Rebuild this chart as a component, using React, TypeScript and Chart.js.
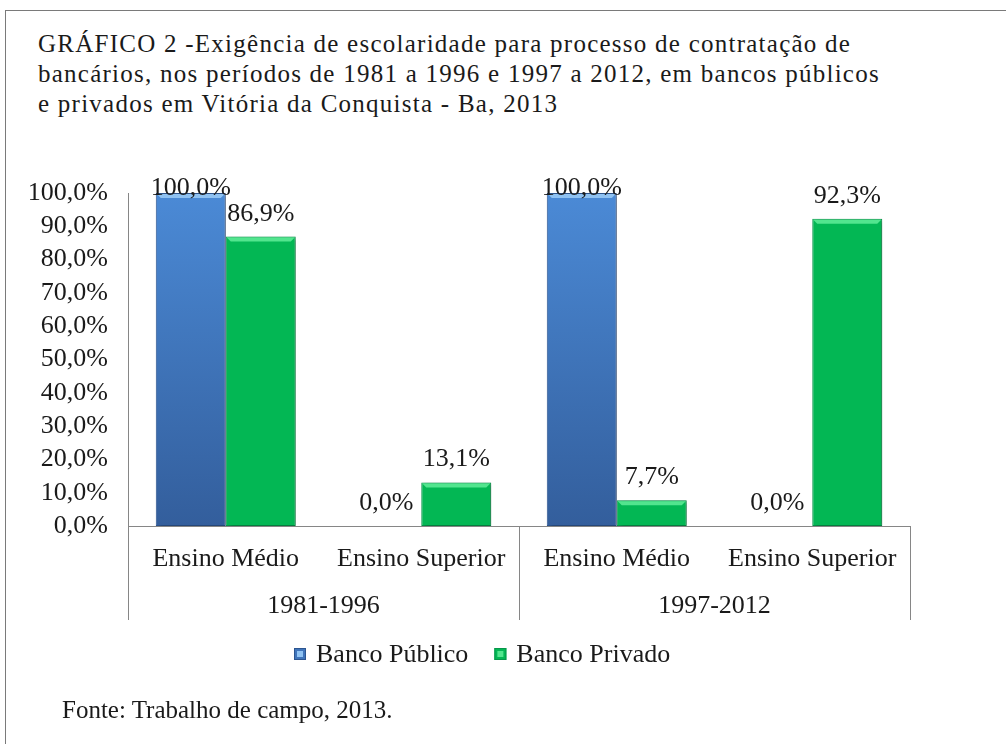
import React, { useEffect, useRef } from 'react';
import { Chart, registerables } from 'chart.js';

Chart.register(...registerables);

// ---------- data ----------
const categories = ['Ensino Médio', 'Ensino Superior', 'Ensino Médio', 'Ensino Superior'];
const periods = ['1981-1996', '1997-2012'];
const seriesNames = ['Banco Público', 'Banco Privado'];
const bancoPublico = [100, 0, 100, 0];
const bancoPrivado = [86.9, 13.1, 7.7, 92.3];
const yTickLabels = ['0,0%', '10,0%', '20,0%', '30,0%', '40,0%', '50,0%', '60,0%', '70,0%', '80,0%', '90,0%', '100,0%'];
const titleLines = [
  'GRÁFICO 2 -Exigência de escolaridade para processo de contratação de',
  'bancários, nos períodos de 1981 a 1996 e 1997 a 2012, em bancos públicos',
  'e privados em Vitória da Conquista - Ba, 2013',
];
const sourceText = 'Fonte: Trabalho de campo, 2013.';

// ---------- styles ----------
const FONT = '"Liberation Serif", "Times New Roman", serif';
const TEXT = '#1a1a1a';
const AXIS = '#868686';
const BLUE_TOP = '#4b8ad6';
const BLUE_BOTTOM = '#335e9c';
const BLUE_EDGE = '#2c5590';
const BLUE_LIGHT = '#8fc2f2';
const GREEN = '#03b754';
const GREEN_EDGE = '#07964a';
const GREEN_LIGHT = '#52e58e';

const fmt = (v: number) => v.toFixed(1).replace('.', ',') + '%';

const decorPlugin = {
  id: 'decor',
  beforeDatasetsDraw(chart: any) {
    const c = chart.ctx;
    c.save();
    c.shadowColor = 'rgba(0,0,0,0.28)';
    c.shadowBlur = 4;
    c.shadowOffsetX = 3;
    c.shadowOffsetY = 1;
  },
  afterDatasetsDraw(chart: any) {
    const c = chart.ctx;
    c.restore();
    const area = chart.chartArea;
    // bevel highlights
    chart.data.datasets.forEach((ds: any, di: number) => {
      const meta = chart.getDatasetMeta(di);
      meta.data.forEach((bar: any) => {
        const h = bar.base - bar.y;
        if (h < 4) return;
        const l = bar.x - bar.width / 2;
        const r = bar.x + bar.width / 2;
        const b = 5;
        c.save();
        c.fillStyle = di === 0 ? BLUE_LIGHT : GREEN_LIGHT;
        c.beginPath();
        c.moveTo(l + 1, bar.y + 1);
        c.lineTo(r - 1, bar.y + 1);
        c.lineTo(r - b, bar.y + b);
        c.lineTo(l + b, bar.y + b);
        c.closePath();
        c.fill();
        c.restore();
      });
    });
    // data labels
    c.save();
    c.font = `26px ${FONT}`;
    c.fillStyle = TEXT;
    c.textAlign = 'center';
    c.textBaseline = 'alphabetic';
    chart.data.datasets.forEach((ds: any, di: number) => {
      const meta = chart.getDatasetMeta(di);
      meta.data.forEach((bar: any, i: number) => {
        const y = Math.max(bar.y - 16, area.top + 2);
        c.fillText(fmt(ds.data[i]), bar.x, y);
      });
    });
    c.restore();
  },
  afterDraw(chart: any) {
    const c = chart.ctx;
    const area = chart.chartArea;
    const xs = chart.scales.x;
    const bottom = xs.bottom;
    // group separators
    const groupSize = categories.length / periods.length;
    const bounds: number[] = [area.left];
    for (let g = 1; g < periods.length; g++) {
      bounds.push((xs.getPixelForValue(g * groupSize - 1) + xs.getPixelForValue(g * groupSize)) / 2);
    }
    bounds.push(area.right);
    c.save();
    c.strokeStyle = AXIS;
    c.lineWidth = 1;
    bounds.forEach((bx) => {
      const px = Math.round(bx) + 0.5;
      c.beginPath();
      c.moveTo(px, area.bottom);
      c.lineTo(px, bottom);
      c.stroke();
    });
    c.font = `26px ${FONT}`;
    c.fillStyle = TEXT;
    c.textAlign = 'center';
    c.textBaseline = 'middle';
    periods.forEach((p, g) => {
      c.fillText(p, (bounds[g] + bounds[g + 1]) / 2, bottom - 14);
    });
    // legend
    const legendY = bottom + 35;
    let lx = 294;
    c.textAlign = 'left';
    chart.data.datasets.forEach((ds: any, di: number) => {
      const sq = 12;
      c.fillStyle = di === 0 ? '#3f74ba' : GREEN;
      c.fillRect(lx, legendY - sq / 2 - 1, sq, sq);
      c.strokeStyle = di === 0 ? BLUE_EDGE : GREEN_EDGE;
      c.strokeRect(lx + 0.5, legendY - sq / 2 - 0.5, sq - 1, sq - 1);
      c.fillStyle = di === 0 ? BLUE_LIGHT : GREEN_LIGHT;
      c.fillRect(lx + 3, legendY - sq / 2 + 2, sq - 6, sq - 6);
      c.fillStyle = TEXT;
      const tx = lx + sq + 10;
      c.fillText(ds.label, tx, legendY);
      lx = tx + c.measureText(ds.label).width + 26;
    });
    c.restore();
  },
};

export default function App() {
  const canvasRef = useRef<HTMLCanvasElement | null>(null);

  useEffect(() => {
    const canvas = canvasRef.current;
    if (!canvas) return;
    const blueFill = (ctx: any) => {
      const { chart } = ctx;
      const area = chart.chartArea;
      if (!area) return BLUE_TOP;
      const g = chart.ctx.createLinearGradient(0, area.top, 0, area.bottom);
      g.addColorStop(0, BLUE_TOP);
      g.addColorStop(1, BLUE_BOTTOM);
      return g;
    };
    const chart = new Chart(canvas, {
      type: 'bar',
      data: {
        labels: categories,
        datasets: [
          {
            label: seriesNames[0],
            data: bancoPublico,
            backgroundColor: blueFill,
            borderColor: BLUE_EDGE,
            borderWidth: (ctx: any) => (ctx.raw > 0 ? 1 : 0),
            borderSkipped: false,
          },
          {
            label: seriesNames[1],
            data: bancoPrivado,
            backgroundColor: GREEN,
            borderColor: GREEN_EDGE,
            borderWidth: (ctx: any) => (ctx.raw > 0 ? 1 : 0),
            borderSkipped: false,
          },
        ],
      },
      options: {
        responsive: false,
        animation: false,
        devicePixelRatio: 1,
        layout: { padding: { top: 193, right: 96, bottom: 124, left: 0 } },
        datasets: { bar: { categoryPercentage: 0.716, barPercentage: 1 } },
        plugins: {
          legend: { display: false },
          tooltip: { enabled: false },
          title: { display: false },
        },
        scales: {
          x: {
            type: 'category',
            grid: { display: false, drawTicks: false },
            border: { display: true, color: AXIS, width: 1 },
            ticks: {
              color: TEXT,
              font: { family: FONT, size: 26 },
              padding: 18,
              maxRotation: 0,
              autoSkip: false,
            },
            afterFit: (s: any) => {
              s.height = 94;
            },
          },
          y: {
            min: 0,
            max: 100,
            grid: { display: false, drawTicks: false },
            border: { display: true, color: AXIS, width: 1 },
            ticks: {
              stepSize: 10,
              autoSkip: false,
              color: TEXT,
              font: { family: FONT, size: 26 },
              padding: 20,
              callback: (_v: any, i: number) => yTickLabels[i],
            },
            afterFit: (s: any) => {
              s.width = 128;
            },
          },
        },
      },
      plugins: [decorPlugin],
    } as any);
    return () => chart.destroy();
  }, []);

  return (
    <div
      style={{
        position: 'absolute',
        left: 0,
        top: 0,
        width: 1006,
        height: 744,
        background: '#ffffff',
        overflow: 'hidden',
      }}
    >
      <div
        style={{
          position: 'absolute',
          left: 5,
          top: 10,
          width: 1100,
          height: 800,
          borderLeft: '1px solid #7a7a7a',
          borderTop: '1px solid #7a7a7a',
        }}
      />
      <div
        style={{
          position: 'absolute',
          left: 38,
          top: 29,
          fontFamily: FONT,
          fontSize: 25,
          lineHeight: '30px',
          letterSpacing: '1.25px',
          color: TEXT,
          whiteSpace: 'pre',
        }}
      >
        {titleLines.map((t, i) => (
          <div key={i}>{t}</div>
        ))}
      </div>
      <canvas
        ref={canvasRef}
        width={1006}
        height={744}
        style={{ position: 'absolute', left: 0, top: 0, width: 1006, height: 744 }}
      />
      <div
        style={{
          position: 'absolute',
          left: 62,
          top: 695,
          fontFamily: FONT,
          fontSize: 25,
          lineHeight: '30px',
          color: TEXT,
          whiteSpace: 'pre',
        }}
      >
        {sourceText}
      </div>
    </div>
  );
}
